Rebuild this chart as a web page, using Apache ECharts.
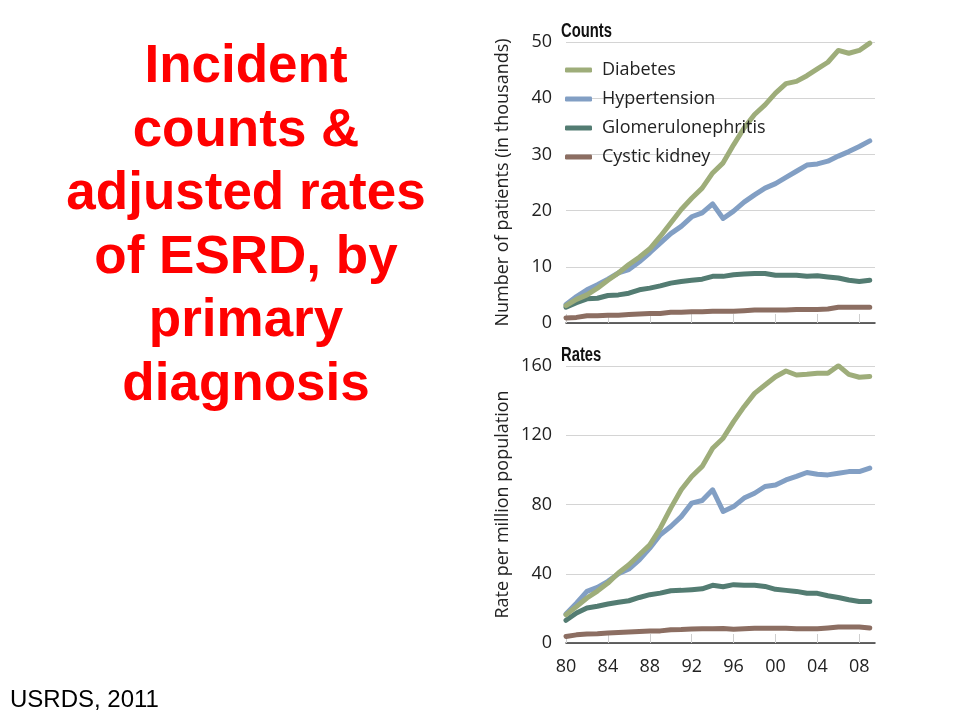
<!DOCTYPE html>
<html>
<head>
<meta charset="utf-8">
<title>Incident counts &amp; adjusted rates of ESRD</title>
<script src="https://cdn.jsdelivr.net/npm/echarts@6/dist/echarts.min.js"></script>
<style>
	html, body { margin: 0; padding: 0; background: #fff; }
	#esrd-echarts { width: 960px; height: 720px; }
</style>
</head>
<body>
<div id="esrd-echarts"></div>
<script>
var years = [1980, 1981, 1982, 1983, 1984, 1985, 1986, 1987, 1988, 1989,
	1990, 1991, 1992, 1993, 1994, 1995, 1996, 1997, 1998, 1999,
	2000, 2001, 2002, 2003, 2004, 2005, 2006, 2007, 2008, 2009];
var yearTicks = [1980, 1984, 1988, 1992, 1996, 2000, 2004, 2008];
var diagnoses = ['Diabetes', 'Hypertension', 'Glomerulonephritis', 'Cystic kidney'];
var colors = ['#9ead7a', '#829fc4', '#537c72', '#8c6e62'];

// counts, in thousands
var countDiabetes = [3.1, 4.2, 5.0, 6.2, 7.6, 8.9, 10.4, 11.7, 13.2, 15.4,
	17.8, 20.2, 22.2, 24.0, 26.7, 28.5, 31.7, 34.7, 37.1, 38.8,
	40.9, 42.6, 43.0, 44.0, 45.2, 46.4, 48.5, 48.0, 48.5, 49.8];
var countHypertension = [3.3, 4.7, 5.9, 6.8, 7.8, 8.9, 9.5, 10.9, 12.5, 14.2,
	15.9, 17.2, 18.9, 19.6, 21.2, 18.6, 19.9, 21.5, 22.8, 24.0,
	24.8, 25.9, 27.0, 28.1, 28.3, 28.8, 29.7, 30.5, 31.4, 32.4];
var countGlomerulo = [2.8, 3.6, 4.3, 4.4, 4.9, 5.0, 5.3, 5.9, 6.2, 6.6,
	7.1, 7.4, 7.6, 7.8, 8.3, 8.3, 8.6, 8.7, 8.8, 8.8,
	8.5, 8.5, 8.5, 8.3, 8.4, 8.2, 8.0, 7.6, 7.4, 7.6];
var countCystic = [0.9, 1.0, 1.3, 1.3, 1.4, 1.4, 1.5, 1.6, 1.7, 1.7,
	1.9, 1.9, 2.0, 2.0, 2.1, 2.1, 2.1, 2.2, 2.3, 2.3,
	2.3, 2.3, 2.4, 2.4, 2.4, 2.5, 2.8, 2.8, 2.8, 2.8];

// rates per million population
var rateDiabetes = [16.3, 21, 26, 30, 34.6, 40.4, 45.2, 51, 56.7, 66.3,
	77.9, 88.5, 96.2, 102, 112.5, 118.3, 127.9, 136.5, 144.2, 149,
	153.8, 157.1, 154.8, 155.2, 155.8, 155.8, 160.2, 155.2, 153.5, 154];
var rateHypertension = [16.7, 23, 29.8, 32.1, 35.6, 40, 42.7, 48, 54.8, 62.5,
	67.3, 73, 80.8, 82.3, 88.5, 76, 78.8, 83.7, 86.5, 90.4,
	91.3, 94.2, 96.2, 98.5, 97.5, 97.1, 98.1, 99, 99, 101];
var rateGlomerulo = [13.1, 17.3, 20.2, 21.2, 22.5, 23.5, 24.4, 26.3, 27.9, 28.8,
	30.2, 30.4, 30.8, 31.3, 33.3, 32.5, 33.7, 33.3, 33.3, 32.7,
	31, 30.4, 29.8, 28.7, 28.7, 27.3, 26.3, 25, 24, 24];
var rateCystic = [3.8, 4.7, 5.2, 5.4, 5.8, 6.1, 6.3, 6.6, 6.9, 7.0,
	7.7, 7.8, 8.1, 8.3, 8.3, 8.4, 7.9, 8.2, 8.5, 8.5,
	8.5, 8.5, 8.3, 8.3, 8.3, 8.7, 9.2, 9.2, 9.2, 8.7];

(function() {
	'use strict';

	var esrdEcharts = echarts.init(document.getElementById('esrd-echarts'));
	var labelFont = "'Open Sans', sans-serif";
	var panelFont = "bold 20px 'Liberation Sans', Arial, sans-serif";

	function pairs(values) {
		return years.map(function(y, i) {
			return [y, values[i]];
		});
	}

	function xAxisFor(gridIndex, showLabels) {
		return {
			type: 'value',
			gridIndex: gridIndex,
			min: 1980,
			max: 2009.5,
			splitLine: { show: false },
			axisLine: { show: true, lineStyle: { color: '#333', width: 1.5 } },
			axisTick: {
				show: true, inside: true, length: 9, customValues: yearTicks,
				lineStyle: { color: '#cfcfcf', width: 1 }
			},
			axisLabel: {
				show: showLabels, customValues: yearTicks, margin: 15,
				fontFamily: labelFont, fontSize: 18, color: '#222',
				formatter: function(v) {
					var s = String(v % 100);
					return s.length < 2 ? '0' + s : s;
				}
			}
		};
	}

	function yAxisFor(gridIndex, name, max, interval) {
		return {
			type: 'value',
			gridIndex: gridIndex,
			min: 0,
			max: max,
			interval: interval,
			name: name,
			nameLocation: 'middle',
			nameGap: 54,
			nameTextStyle: { fontFamily: labelFont, fontSize: 18, color: '#222' },
			axisLine: { show: false },
			axisTick: { show: false },
			axisLabel: { margin: 14, fontFamily: labelFont, fontSize: 18, color: '#222' },
			splitLine: { lineStyle: { color: '#d4d4d4', width: 1 } }
		};
	}

	function lineFor(name, color, gridIndex, values) {
		return {
			name: name,
			type: 'line',
			xAxisIndex: gridIndex,
			yAxisIndex: gridIndex,
			data: pairs(values),
			showSymbol: false,
			color: color,
			lineStyle: { color: color, width: 5, cap: 'round', join: 'round' }
		};
	}

	//----------------------------发病数与发病率------------------------------------------
	var option = {
		backgroundColor: '#fff',
		animation: false,
		title: [{
			text: 'Incident\ncounts &\nadjusted rates\nof ESRD, by\nprimary\ndiagnosis',
			left: 246,
			top: 36,
			padding: 0,
			textAlign: 'center',
			textStyle: {
				fontFamily: "'Liberation Sans', Arial, sans-serif",
				fontWeight: 'bold', fontSize: 53, lineHeight: 63.5, color: '#ff0000'
			}
		}, {
			text: 'USRDS, 2011',
			left: 10,
			top: 688,
			padding: 0,
			textStyle: {
				fontFamily: "'Liberation Sans', Arial, sans-serif",
				fontWeight: 'normal', fontSize: 24, lineHeight: 24, color: '#000'
			}
		}],
		// panel headings, squeezed to a condensed look
		graphic: [{
			type: 'text',
			x: 561,
			y: 21,
			scaleX: 0.74,
			style: { text: 'Counts', font: panelFont, fill: '#111', verticalAlign: 'top' }
		}, {
			type: 'text',
			x: 561,
			y: 345,
			scaleX: 0.74,
			style: { text: 'Rates', font: panelFont, fill: '#111', verticalAlign: 'top' }
		}],
		legend: {
			data: diagnoses,
			orient: 'vertical',
			left: 565,
			top: 61,
			padding: 0,
			itemWidth: 27,
			itemHeight: 5,
			itemGap: 11,
			icon: 'roundRect',
			textStyle: {
				fontFamily: labelFont, fontSize: 18, lineHeight: 18, color: '#222',
				padding: [0, 0, 0, 5]
			}
		},
		grid: [
			{ left: 566, right: 85, top: 42, bottom: 397 },
			{ left: 566, right: 85, top: 366, bottom: 77 }
		],
		xAxis: [xAxisFor(0, false), xAxisFor(1, true)],
		yAxis: [
			yAxisFor(0, 'Number of patients (in thousands)', 50, 10),
			yAxisFor(1, 'Rate per million population', 160, 40)
		],
		series: [
			lineFor(diagnoses[3], colors[3], 0, countCystic),
			lineFor(diagnoses[2], colors[2], 0, countGlomerulo),
			lineFor(diagnoses[1], colors[1], 0, countHypertension),
			lineFor(diagnoses[0], colors[0], 0, countDiabetes),
			lineFor(diagnoses[3], colors[3], 1, rateCystic),
			lineFor(diagnoses[2], colors[2], 1, rateGlomerulo),
			lineFor(diagnoses[1], colors[1], 1, rateHypertension),
			lineFor(diagnoses[0], colors[0], 1, rateDiabetes)
		]
	};
	esrdEcharts.setOption(option);

	window.onresize = function() {
		esrdEcharts.resize();
	};
})();
</script>
</body>
</html>
